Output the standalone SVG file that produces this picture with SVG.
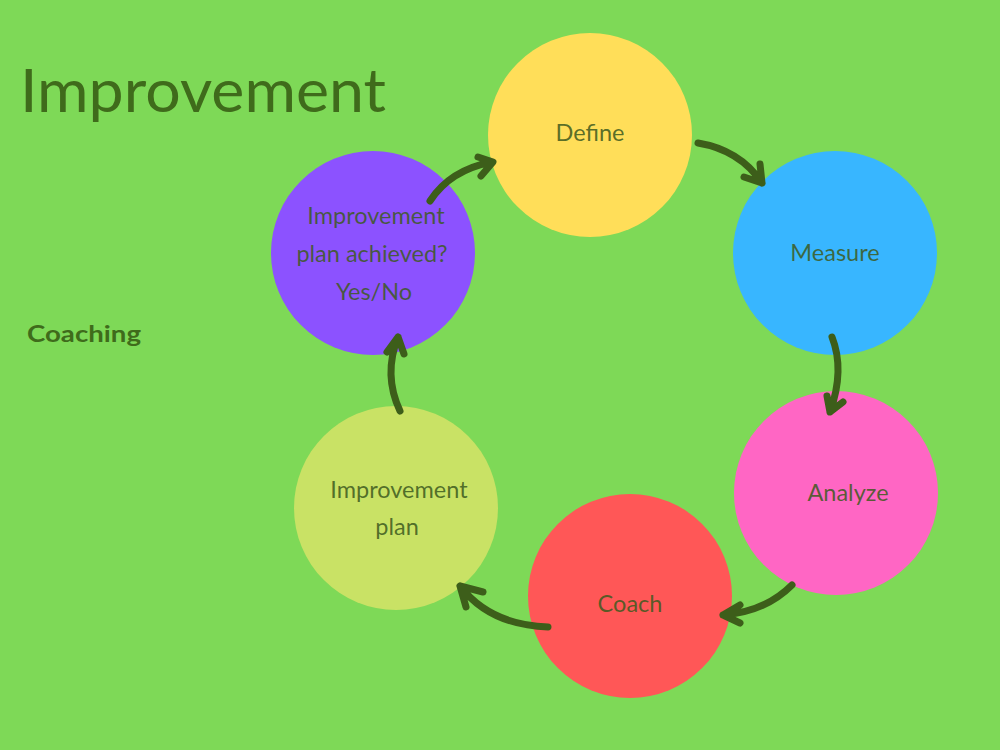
<svg xmlns="http://www.w3.org/2000/svg" width="1000" height="750" viewBox="0 0 1000 750">
<style>
.lbl{font-family:Lato,"Noto Sans","Liberation Sans",sans-serif;font-size:23.5px;fill:#3D5A1E;fill-opacity:0.85;text-anchor:middle}
.arr{fill:none;stroke:#3D5E1A;stroke-width:7;stroke-linecap:round;stroke-linejoin:round}
</style>
<rect width="1000" height="750" fill="#7ED957"/>
<text x="20" y="112" font-family="Lato,'Noto Sans',sans-serif" font-size="60" fill="#3F6B1B" textLength="366" lengthAdjust="spacingAndGlyphs">Improvement</text>
<text x="27" y="342" font-family="Lato,'Noto Sans',sans-serif" font-size="22" font-weight="bold" fill="#3F6B1B" textLength="114" lengthAdjust="spacingAndGlyphs">Coaching</text>
<g id="define"><circle cx="590" cy="135" r="102" fill="#FFDE59"/><text class="lbl" x="590" y="141">Define</text></g>
<g id="measure"><circle cx="835" cy="253" r="102" fill="#38B6FF"/><text class="lbl" x="835" y="261">Measure</text></g>
<g id="analyze"><circle cx="836" cy="493" r="102" fill="#FF66C4"/><text class="lbl" x="848" y="501">Analyze</text></g>
<g id="coach"><circle cx="630" cy="596" r="102" fill="#FF5757"/><text class="lbl" x="630" y="612">Coach</text></g>
<g id="plan"><circle cx="396" cy="508" r="102" fill="#C9E265"/><text class="lbl" x="399" y="498">Improvement</text><text class="lbl" x="397" y="535">plan</text></g>
<g id="achieved"><circle cx="373" cy="253" r="102" fill="#8C52FF"/><text class="lbl" x="376" y="224">Improvement</text><text class="lbl" x="372" y="262">plan achieved?</text><text class="lbl" x="374" y="300">Yes/No</text></g>
<g id="connectors">
<path class="arr" d="M430,201 Q450,170 492,162 M478,157 L493,162 L481,176"/>
<path class="arr" d="M698,143 Q740,150 762,183 M760,164 L762,183 L744,177"/>
<path class="arr" d="M832,337 Q845,370 830,412 M827,396 L830,412 L843,402"/>
<path class="arr" d="M792,585 Q765,612 723,615 M740,605 L723,615 L740,623"/>
<path class="arr" d="M548,627 Q490,625 460,586 M483,592 L460,586 L466,607"/>
<path class="arr" d="M400,411 Q383,375 398,337 M387,352 L398,337 L404,354"/>
</g>
</svg>
